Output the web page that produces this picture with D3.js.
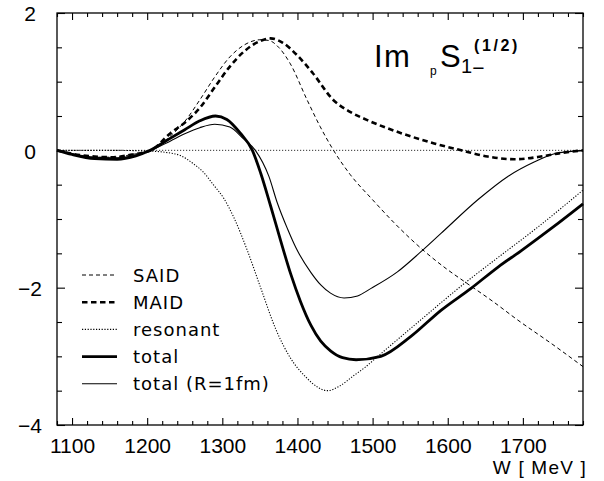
<!DOCTYPE html>
<html>
<head>
<meta charset="utf-8">
<script src="https://cdn.jsdelivr.net/npm/d3@7"></script>
<style>
  body { margin: 0; background: #fff; }
  svg { display: block; }
  text { font-family: "Liberation Sans", Arial, Helvetica, sans-serif; fill: #000; }
  text.legend-label { font-family: "DejaVu Sans", sans-serif; }
</style>
</head>
<body>
<svg id="chart" width="604" height="481"></svg>
<script>
// Energy axis (W in MeV) and value axis tick labels
const wTicks = [1100, 1200, 1300, 1400, 1500, 1600, 1700];
const vTicks = [2, 0, -2, -4];
const xLabel = "W [ MeV ]";

// Curves as [W, value] pairs
const said = [[1080,0],[1100,-0.05],[1130,-0.1],[1155,-0.1],[1180,-0.06],[1205,0],[1230,0.2],[1250,0.42],[1271,0.75],[1290,1.07],[1310,1.36],[1330,1.54],[1350,1.61],[1362,1.6],[1375,1.5],[1390,1.27],[1413,0.73],[1430,0.35],[1448,0],[1470,-0.35],[1500,-0.72],[1530,-1.07],[1569,-1.47],[1600,-1.74],[1622,-1.91],[1660,-2.2],[1693,-2.47],[1740,-2.83],[1780,-3.15]];
const maid = [[1080,0],[1100,-0.05],[1130,-0.09],[1155,-0.1],[1180,-0.06],[1205,0],[1231,0.25],[1253,0.43],[1271,0.63],[1290,0.92],[1310,1.22],[1330,1.45],[1350,1.59],[1364,1.63],[1380,1.57],[1400,1.38],[1420,1.13],[1448,0.73],[1470,0.56],[1493,0.44],[1538,0.25],[1582,0.1],[1618,0],[1653,-0.09],[1689,-0.13],[1724,-0.09],[1750,-0.04],[1780,0]];
const resonant = [[1080,0],[1150,0],[1200,-0.01],[1225,-0.03],[1245,-0.08],[1262,-0.2],[1275,-0.32],[1288,-0.5],[1302,-0.7],[1315,-0.97],[1333,-1.45],[1351,-2.0],[1371,-2.6],[1391,-3.03],[1411,-3.3],[1427,-3.45],[1440,-3.5],[1455,-3.44],[1475,-3.28],[1490,-3.16],[1507,-3.0],[1564,-2.47],[1622,-1.94],[1667,-1.56],[1715,-1.16],[1780,-0.58]];
const total = [[1080,0],[1100,-0.06],[1130,-0.12],[1160,-0.13],[1185,-0.08],[1204,0],[1230,0.17],[1250,0.3],[1270,0.43],[1291,0.5],[1306,0.45],[1324,0.25],[1340,0],[1351,-0.33],[1364,-0.8],[1378,-1.33],[1391,-1.8],[1404,-2.2],[1418,-2.55],[1431,-2.78],[1444,-2.92],[1460,-3.02],[1478,-3.05],[1511,-3.0],[1551,-2.71],[1591,-2.33],[1631,-2.01],[1667,-1.7],[1698,-1.46],[1740,-1.12],[1780,-0.78]];
const totalR1 = [[1080,0],[1100,-0.05],[1130,-0.1],[1160,-0.11],[1185,-0.07],[1205,0],[1230,0.13],[1250,0.24],[1270,0.33],[1290,0.38],[1310,0.34],[1328,0.17],[1344,0],[1362,-0.38],[1373,-0.76],[1387,-1.15],[1398,-1.42],[1418,-1.78],[1431,-1.96],[1444,-2.08],[1462,-2.15],[1480,-2.12],[1498,-2.01],[1533,-1.77],[1564,-1.48],[1591,-1.21],[1640,-0.72],[1680,-0.38],[1715,-0.17],[1742,-0.05],[1780,0]];

const legendNames = ["SAID", "MAID", "resonant", "total", "total (R=1fm)"];

const svg = d3.select("#chart");
const x = d3.scaleLinear().domain([1080, 1780]).range([57, 583]);
const y = d3.scaleLinear().domain([-4, 2]).range([425, 13]);

const styles = [
  { data: said,     width: 1,   dash: "4,3" },
  { data: maid,     width: 2.6, dash: "5.5,3.5" },
  { data: resonant, width: 1.1, dash: "1.2,1.6" },
  { data: total,    width: 2.8, dash: null },
  { data: totalR1,  width: 1.1, dash: null }
];

// zero reference line
svg.append("line")
  .attr("x1", x(1080)).attr("x2", x(1780))
  .attr("y1", y(0)).attr("y2", y(0))
  .attr("stroke", "#333").attr("stroke-width", 1)
  .attr("stroke-dasharray", "1.2,1.8");

const line = d3.line().x(d => x(d[0])).y(d => y(d[1])).curve(d3.curveMonotoneX);

styles.forEach(s => {
  svg.append("path")
    .attr("d", line(s.data))
    .attr("fill", "none")
    .attr("stroke", "#000")
    .attr("stroke-width", s.width)
    .attr("stroke-dasharray", s.dash)
    .attr("stroke-linejoin", "round");
});

// frame
svg.append("rect")
  .attr("x", 57).attr("y", 13)
  .attr("width", 583 - 57).attr("height", 425 - 13)
  .attr("fill", "none").attr("stroke", "#000").attr("stroke-width", 1.3);

// minor tick positions
const wMinor = d3.range(1080, 1781, 20).filter(v => v % 100 !== 0);
const vMinor = d3.range(-4, 2.01, 0.5).filter(v => v % 2 !== 0);

function styleAxis(g) {
  g.select(".domain").remove();
  g.selectAll(".tick line").attr("stroke", "#000").attr("stroke-width", 1.1);
}

// bottom axis
const gb = svg.append("g").attr("transform", "translate(0,425)")
  .call(d3.axisBottom(x).tickValues(wTicks).tickSize(-7).tickPadding(13).tickFormat(d3.format("d")));
styleAxis(gb);
gb.selectAll("text").attr("font-size", 21).attr("fill", "#000");
svg.append("g").attr("transform", "translate(0,425)")
  .call(d3.axisBottom(x).tickValues(wMinor).tickSize(-4).tickFormat(""))
  .call(styleAxis);

// top axis
svg.append("g").attr("transform", "translate(0,13)")
  .call(d3.axisTop(x).tickValues(wTicks).tickSize(-7).tickFormat(""))
  .call(styleAxis);
svg.append("g").attr("transform", "translate(0,13)")
  .call(d3.axisTop(x).tickValues(wMinor).tickSize(-4).tickFormat(""))
  .call(styleAxis);

// left axis
const gl = svg.append("g").attr("transform", "translate(57,0)")
  .call(d3.axisLeft(y).tickValues(vTicks).tickSize(-8).tickFormat(d => d < 0 ? "\u2212" + Math.abs(d) : d));
styleAxis(gl);
gl.selectAll("text").attr("font-size", 21)
  .attr("text-anchor", "middle").attr("x", -27).attr("dy", "0.38em").attr("fill", "#000");
svg.append("g").attr("transform", "translate(57,0)")
  .call(d3.axisLeft(y).tickValues(vMinor).tickSize(-5).tickFormat(""))
  .call(styleAxis);

// right axis
svg.append("g").attr("transform", "translate(583,0)")
  .call(d3.axisRight(y).tickValues(vTicks).tickSize(-8).tickFormat(""))
  .call(styleAxis);
svg.append("g").attr("transform", "translate(583,0)")
  .call(d3.axisRight(y).tickValues(vMinor).tickSize(-5).tickFormat(""))
  .call(styleAxis);

// axis title
svg.append("text")
  .attr("x", 587).attr("y", 474)
  .attr("text-anchor", "end")
  .attr("font-size", 19)
  .attr("letter-spacing", 1.2)
  .text(xLabel);

// plot title: Im pS1-^(1/2), one text element with positioned pieces
const title = svg.append("text").attr("font-size", 31);
title.append("tspan").attr("x", 374).attr("y", 67).attr("letter-spacing", 1.5).text("Im");
title.append("tspan").attr("x", 430).attr("y", 75).attr("font-size", 12).text("p");
title.append("tspan").attr("x", 440).attr("y", 67).attr("font-size", 31).text("S");
title.append("tspan").attr("x", 461).attr("y", 73).attr("font-size", 20).text("1");
title.append("tspan").attr("dy", 2).attr("font-size", 21).text("\u2212");
title.append("tspan").attr("x", 474).attr("y", 51).attr("font-size", 16)
  .attr("font-weight", "bold").attr("letter-spacing", 2.6).text("(1/2)");

// legend
const legend = svg.append("g");
legendNames.forEach((name, i) => {
  const base = 281.5 + i * 27.2;
  const s = styles[i];
  legend.append("line")
    .attr("x1", 82).attr("x2", 117)
    .attr("y1", base - 6.5).attr("y2", base - 6.5)
    .attr("stroke", "#000")
    .attr("stroke-width", s.width)
    .attr("stroke-dasharray", s.dash);
  legend.append("text")
    .attr("class", "legend-label")
    .attr("x", 133).attr("y", base)
    .attr("font-size", 18)
    .attr("letter-spacing", 1)
    .text(name);
});
</script>
</body>
</html>
